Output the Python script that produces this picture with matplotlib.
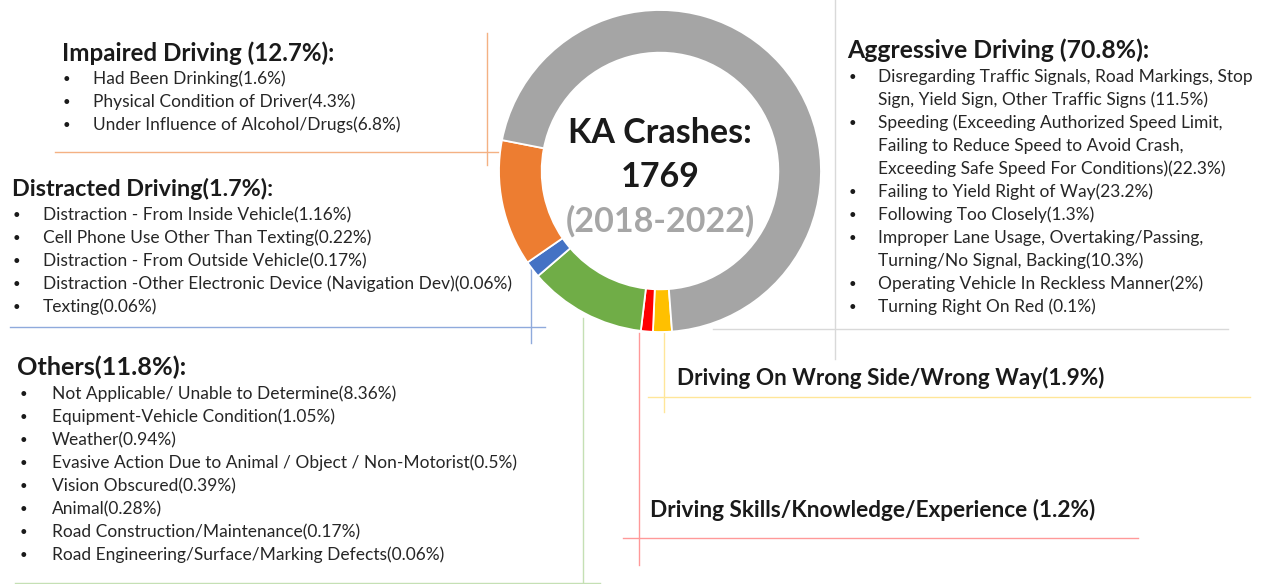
import matplotlib
matplotlib.use("Agg")
import matplotlib.pyplot as plt

# donut data (order drawn clockwise from the bottom)
categories = ["Driving On Wrong Side/Wrong Way", "Driving Skills/Knowledge/Experience",
              "Others", "Distracted Driving", "Impaired Driving", "Aggressive Driving"]
shares = [1.9, 1.2, 11.8, 1.7, 12.7, 70.8]
colors = ["#FFC000", "#FF0000", "#70AD47", "#4472C4", "#ED7D31", "#A5A5A5"]

total_crashes = 1769
period = "(2018-2022)"

impaired_items = ["Had Been Drinking(1.6%)",
                  "Physical Condition of Driver(4.3%)",
                  "Under Influence of Alcohol/Drugs(6.8%)"]
distracted_items = ["Distraction - From Inside Vehicle(1.16%)",
                    "Cell Phone Use Other Than Texting(0.22%)",
                    "Distraction - From Outside Vehicle(0.17%)",
                    "Distraction -Other Electronic Device (Navigation Dev)(0.06%)",
                    "Texting(0.06%)"]
others_items = ["Not Applicable/ Unable to Determine(8.36%)",
                "Equipment-Vehicle Condition(1.05%)",
                "Weather(0.94%)",
                "Evasive Action Due to Animal / Object / Non-Motorist(0.5%)",
                "Vision Obscured(0.39%)",
                "Animal(0.28%)",
                "Road Construction/Maintenance(0.17%)",
                "Road Engineering/Surface/Marking Defects(0.06%)"]
aggressive_items = ["Disregarding Traffic Signals, Road Markings, Stop\nSign, Yield Sign, Other Traffic Signs (11.5%)",
                    "Speeding (Exceeding Authorized Speed Limit,\nFailing to Reduce Speed to Avoid Crash,\nExceeding Safe Speed For Conditions)(22.3%)",
                    "Failing to Yield Right of Way(23.2%)",
                    "Following Too Closely(1.3%)",
                    "Improper Lane Usage, Overtaking/Passing,\nTurning/No Signal, Backing(10.3%)",
                    "Operating Vehicle In Reckless Manner(2%)",
                    "Turning Right On Red (0.1%)"]

W, H = 1265, 584
FONT = "Lato"
BODY = 12.55
LINE = 23.0
DARK = "#1a1a1a"

fig = plt.figure(figsize=(W / 100, H / 100), dpi=100)
ax = fig.add_axes([0, 0, 1, 1])
ax.set_xlim(0, W)
ax.set_ylim(H, 0)
ax.axis("off")

# donut
cx, cy, r = 660, 171, 161
pax = fig.add_axes([(cx - r) / W, 1 - (cy + r) / H, 2 * r / W, 2 * r / H])
pax.pie(shares, colors=colors, startangle=-85.7, counterclock=False, radius=1,
        wedgeprops=dict(width=0.265, edgecolor="white", linewidth=1.3))
pax.set_xlim(-1.0, 1.0)
pax.set_ylim(-1.0, 1.0)
pax.axis("off")

pax.text(0, 0.235, "KA Crashes:", ha="center", va="center", fontsize=24.5,
         fontweight="bold", color=DARK, family=FONT)
pax.text(0, -0.04, str(total_crashes), ha="center", va="center", fontsize=24.5,
         fontweight="bold", color=DARK, family=FONT)
pax.text(0, -0.31, period, ha="center", va="center", fontsize=24.5,
         fontweight="bold", color="#A6A6A6", family=FONT)


def block(title, items, head_size, x_head, y_head, x_bul, x_txt, y0):
    ax.text(x_head, y_head, title, ha="left", va="center", fontsize=head_size,
            fontweight="bold", color=DARK, family=FONT)
    y = y0
    for it in items:
        ax.text(x_bul, y, "\u2022", ha="center", va="center", fontsize=9.5,
                color=DARK, family=FONT)
        for part in it.split("\n"):
            ax.text(x_txt, y, part, ha="left", va="center", fontsize=BODY,
                    color="#262626", family=FONT)
            y += LINE


block("Impaired Driving (12.7%):", impaired_items, 17.4, 62, 53, 66, 93, 79)
block("Distracted Driving(1.7%):", distracted_items, 16.8, 12, 189, 16, 43, 215)
block("Others(11.8%):", others_items, 18.2, 17, 367, 23, 52, 394)
block("Aggressive Driving (70.8%):", aggressive_items, 17.8, 847, 50, 852, 878, 77)

ax.text(677, 378, categories[0] + "(1.9%)", ha="left", va="center",
        fontsize=16.2, fontweight="bold", color=DARK, family=FONT)
ax.text(650, 510, categories[1] + " (1.2%)", ha="left", va="center",
        fontsize=16.3, fontweight="bold", color=DARK, family=FONT)

# leader lines
lw = 1.0
ax.plot([487, 487], [33, 165], color="#F4B183", lw=lw)
ax.plot([55, 505], [152, 152], color="#F4B183", lw=lw)
ax.plot([531, 531], [266, 343], color="#8FAADC", lw=lw)
ax.plot([10, 545], [327, 327], color="#8FAADC", lw=lw)
ax.plot([583, 583], [318, 584], color="#C5E0B4", lw=lw)
ax.plot([15, 600], [583, 583], color="#C5E0B4", lw=lw)
ax.plot([639, 639], [333, 565], color="#FF9999", lw=lw)
ax.plot([623, 1138], [538, 538], color="#FF9999", lw=lw)
ax.plot([664, 664], [333, 412], color="#FFE699", lw=lw)
ax.plot([648, 1250], [397, 397], color="#FFE699", lw=lw)
ax.plot([835, 835], [0, 359], color="#D9D9D9", lw=lw)
ax.plot([713, 1228], [329, 329], color="#D9D9D9", lw=lw)

fig.savefig("out.png", dpi=100, facecolor="white")
